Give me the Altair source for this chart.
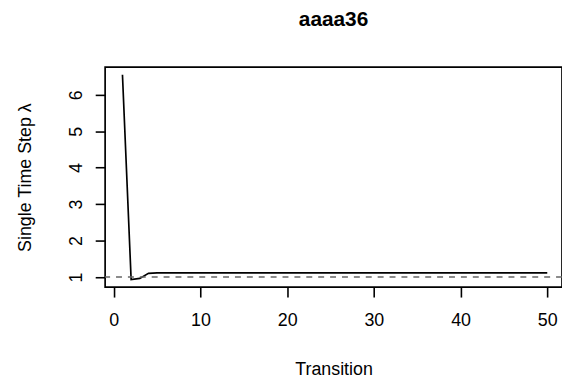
import altair as alt
import pandas as pd

transition = list(range(1, 51))
lam = [6.55, 0.93, 0.96, 1.10, 1.11, 1.11, 1.11, 1.11, 1.11, 1.11,
       1.11, 1.11, 1.11, 1.11, 1.11, 1.11, 1.11, 1.11, 1.11, 1.11,
       1.11, 1.11, 1.11, 1.11, 1.11, 1.11, 1.11, 1.11, 1.11, 1.11,
       1.11, 1.11, 1.11, 1.11, 1.11, 1.11, 1.11, 1.11, 1.11, 1.11,
       1.11, 1.11, 1.11, 1.11, 1.11, 1.11, 1.11, 1.11, 1.11, 1.11]
ref_level = [1.0]
x_ticks = [0, 10, 20, 30, 40, 50]
y_ticks = [1, 2, 3, 4, 5, 6]

df = pd.DataFrame({"Transition": transition, "lambda": lam})
ref = pd.DataFrame({"y": ref_level})

font = "Liberation Sans"

xscale = alt.Scale(domain=[-1.0, 51.7], nice=False, zero=False)
yscale = alt.Scale(domain=[0.72, 6.76], nice=False, zero=False)

line = alt.Chart(df).mark_line(color="black", strokeWidth=1.7, clip=True).encode(
    x=alt.X("Transition:Q", scale=xscale,
            axis=alt.Axis(values=x_ticks, title="Transition", grid=False, domain=False,
                          tickColor="black", tickSize=10, tickWidth=1.6,
                          labelFont=font, labelFontSize=18, labelColor="black",
                          labelPadding=15, titleFont=font, titleFontSize=18,
                          titleFontWeight="normal", titleColor="black", titlePadding=31)),
    y=alt.Y("lambda:Q", scale=yscale,
            axis=alt.Axis(values=y_ticks, title="Single Time Step   λ", grid=False, domain=False,
                          tickColor="black", tickSize=10, tickWidth=1.6,
                          labelFont=font, labelFontSize=18, labelColor="black",
                          labelAngle=-90, labelAlign="center", labelBaseline="bottom",
                          labelPadding=10, titleFont=font, titleFontSize=18,
                          titleFontWeight="normal", titleColor="black", titlePadding=33)),
)

hline = alt.Chart(ref).mark_rule(color="#666666", strokeDash=[6, 6], strokeWidth=1.6).encode(
    y=alt.Y("y:Q", scale=yscale)
)

chart = (line + hline).properties(
    width=461,
    height=222,
    background="white",
    autosize=alt.AutoSizeParams(type="none"),
    padding={"left": 98, "top": 58, "right": 0, "bottom": 90},
    title=alt.TitleParams("aaaa36", font=font, fontSize=21, fontWeight="bold",
                          color="black", anchor="middle", offset=38),
).configure_view(stroke="black", strokeWidth=1.7)

chart.save("out.html", embed_options={"renderer": "svg", "actions": False})
